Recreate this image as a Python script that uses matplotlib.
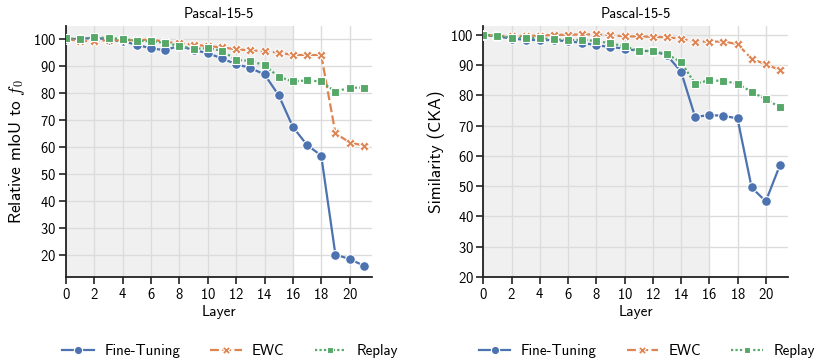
import matplotlib
matplotlib.use("Agg")
import matplotlib.pyplot as plt
import numpy as np

plt.rcParams['font.family'] = ['cmss10', 'DejaVu Sans']
plt.rcParams['mathtext.fontset'] = 'cm'
plt.rcParams['axes.formatter.use_mathtext'] = True

layers = list(range(22))
title = "Pascal-15-5"
series_names = ["Fine-Tuning", "EWC", "Replay"]

miou_ft = [100, 100.0, 100.5, 99.8, 99.1, 97.9, 96.5, 95.9, 97.5, 95.9, 94.8, 92.8,
           90.7, 89.3, 86.9, 79.2, 67.5, 60.8, 56.9, 20.3, 18.6, 16.2]
miou_ewc = [100, 99.3, 99.2, 99.6, 99.5, 99.6, 99.8, 98.9, 98.5, 97.9, 97.4, 96.9,
            96.2, 95.8, 95.5, 95.0, 94.1, 94.1, 94.1, 65.2, 61.7, 60.6]
miou_replay = [100.3, 100.0, 100.6, 100.4, 100.0, 99.4, 99.1, 98.6, 97.4, 96.4, 96.6, 95.7,
               92.3, 91.9, 90.3, 86.0, 84.3, 84.7, 84.3, 80.5, 82.0, 82.0]

cka_ft = [100, 99.5, 98.8, 98.4, 98.3, 98.3, 97.9, 97.4, 96.6, 96.0, 95.5, 94.7,
          94.7, 93.3, 87.9, 72.9, 73.5, 73.3, 72.4, 49.6, 45.0, 56.9]
cka_ewc = [100, 99.8, 99.6, 99.7, 99.8, 100.0, 100.1, 100.2, 100.2, 100.0, 99.5, 99.5,
           99.4, 99.2, 98.8, 97.8, 97.8, 97.8, 97.0, 92.1, 90.3, 88.4]
cka_replay = [100, 99.7, 99.1, 99.1, 98.9, 98.6, 98.3, 98.4, 98.0, 97.2, 96.3, 94.7,
              94.7, 93.7, 91.0, 83.9, 85.0, 84.8, 83.9, 81.2, 78.8, 76.1]

colors = ["#4C72B0", "#DD8452", "#55A868"]
styles = [dict(marker='o', ls='-', ms=7),
          dict(marker='X', ls=(0, (4, 1.5)), ms=7),
          dict(marker='s', ls=(0, (1, 1)), ms=5.5)]

fig = plt.figure(figsize=(8.16, 3.63), dpi=100)
ax1 = fig.add_axes([0.0809, 0.2369, 0.3753, 0.6915])
ax2 = fig.add_axes([0.5923, 0.2369, 0.3738, 0.6915])

def draw(ax, data, ylabel, ybottom=None):
    ax.set_facecolor('white')
    ax.axvspan(0, 16, color='#f0f0f0', zorder=0, lw=0)
    ax.grid(True, color='#dcdcdc', lw=1.0, zorder=1)
    ax.set_axisbelow(True)
    for name, ys, c, st in zip(series_names, data, colors, styles):
        ax.plot(layers, ys, color=c, lw=1.6, marker=st['marker'], ls=st['ls'],
                ms=st['ms'], mec='white', mew=0.8, label=name, zorder=3)
    ax.set_xlim(0, 21.6)
    ax.set_xticks(range(0, 21, 2))
    ax.set_yticks(range(20, 101, 10))
    if ybottom is not None:
        ax.set_ylim(bottom=ybottom)
    ax.set_title(title, fontsize=10.5, pad=6)
    ax.set_xlabel("Layer", fontsize=11, labelpad=2)
    ax.set_ylabel(ylabel, fontsize=12.5, labelpad=4)
    for s in ['top', 'right']:
        ax.spines[s].set_visible(False)
    for s in ['left', 'bottom']:
        ax.spines[s].set_color('#222222')
        ax.spines[s].set_linewidth(1.3)
    ax.tick_params(axis='both', direction='out', length=5, width=1.2,
                   color='#222222', labelsize=10.5, pad=2)
    ax.legend(loc='upper center', bbox_to_anchor=(0.536, -0.225), ncol=3,
              frameon=False, fontsize=10.8, handlelength=2.1, columnspacing=2.0,
              handletextpad=0.7, borderaxespad=0.3, markerscale=0.85)

draw(ax1, [miou_ft, miou_ewc, miou_replay], r"Relative mIoU to $f_0$")
draw(ax2, [cka_ft, cka_ewc, cka_replay], "Similarity (CKA)", ybottom=20)

fig.savefig("out.png", dpi=100)
